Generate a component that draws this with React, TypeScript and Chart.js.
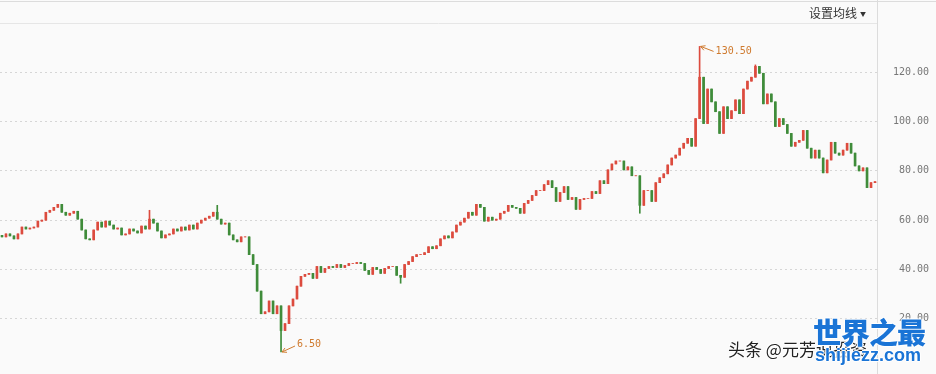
import React, { useEffect, useRef } from 'react';
import { Chart, registerables } from 'chart.js';

Chart.register(...registerables);

// Closing prices, one per candle (left to right)
const closes: number[] = [
  53.2, 54.4, 53.6, 52.4, 54.4, 57.2, 56.4, 56.8, 57.2, 59.6,
  60.0, 63.2, 64.0, 65.2, 66.4, 63.2, 62.0, 62.8, 63.6, 60.4,
  56.0, 52.4, 52.0, 56.0, 59.2, 57.2, 59.6, 58.0, 56.4, 56.8,
  54.0, 54.4, 56.4, 55.6, 54.8, 57.6, 56.4, 60.4, 58.8, 55.6,
  52.8, 54.0, 54.4, 56.4, 55.6, 57.2, 56.0, 58.0, 56.4, 58.8,
  60.0, 60.8, 61.6, 63.2, 60.4, 58.4, 58.8, 54.0, 52.0, 51.2,
  53.2, 53.2, 46.0, 42.0, 31.2, 22.0, 22.8, 27.2, 22.0, 25.2,
  15.2, 18.0, 25.2, 28.0, 33.2, 37.2, 38.0, 38.4, 36.4, 41.2,
  38.8, 40.4, 41.2, 40.8, 42.0, 40.8, 41.6, 42.4, 42.4, 42.8,
  42.4, 39.6, 38.0, 40.8, 40.0, 38.4, 40.4, 41.2, 41.2, 37.6,
  36.8, 42.0, 43.2, 45.2, 46.0, 46.0, 46.8, 49.2, 48.4, 49.6,
  52.4, 53.6, 52.8, 55.2, 58.0, 59.2, 60.8, 63.2, 62.0, 66.4,
  65.2, 59.6, 61.2, 60.0, 60.4, 62.8, 63.6, 66.0, 65.2, 64.8,
  62.8, 66.8, 68.0, 70.0, 72.0, 72.0, 74.4, 76.0, 73.2, 67.6,
  71.2, 73.6, 68.4, 69.2, 64.4, 68.4, 68.8, 68.8, 71.6, 70.8,
  76.0, 74.8, 80.4, 82.8, 84.0, 84.0, 80.4, 81.6, 78.0, 78.0,
  66.0, 72.0, 72.0, 67.6, 75.2, 77.2, 78.8, 82.4, 85.2, 86.4,
  89.2, 91.2, 93.2, 90.0, 101.2, 118.0, 99.2, 113.2, 108.0, 104.0,
  95.2, 106.0, 101.2, 104.4, 108.8, 103.2, 113.2, 116.4, 118.0, 122.4,
  119.6, 107.2, 111.2, 108.0, 98.0, 101.2, 98.8, 95.2, 90.0, 91.6,
  92.4, 96.4, 89.2, 85.2, 88.4, 85.2, 79.2, 84.4, 91.6, 87.2,
  86.4, 88.4, 91.2, 87.2, 82.0, 80.0, 81.2, 73.2, 75.2, 75.6,
];
const firstOpen = 53.8;

// Notable wick extremes (candle index -> price)
const wickHighs: Record<number, number> = { 37: 64.0, 54: 66.0, 175: 130.5, 189: 123.0 };
const wickLows: Record<number, number> = { 70: 6.5, 100: 34.4, 160: 62.8 };

const yTicks = [20, 40, 60, 80, 100, 120];
const yMin = 0;
const yMax = 140;
const maxLabel = '130.50';
const minLabel = '6.50';
const headerText = '设置均线';
const watermarkText = '头条 @元芳说投资';
const logoText = '世界之最';
const logoUrl = 'shijiezz.com';

const UP = '#dc4b3e';
const DOWN = '#3f8c3a';
const NOTE = '#cf7a2e';

export default function App() {
  const ref = useRef<HTMLCanvasElement | null>(null);

  useEffect(() => {
    if (!ref.current) return;
    const labels = closes.map((_, i) => String(i));
    const opens = closes.map((_, i) => (i === 0 ? firstOpen : closes[i - 1]));
    const bodies = closes.map((c, i) => [opens[i], c]);
    const wicks = closes.map((c, i) => {
      const lo = wickLows[i] !== undefined ? wickLows[i] : Math.min(opens[i], c);
      const hi = wickHighs[i] !== undefined ? wickHighs[i] : Math.max(opens[i], c);
      return [lo, hi];
    });
    const colors = closes.map((c, i) => (c >= opens[i] ? UP : DOWN));
    const hiIdx = 175;
    const loIdx = 70;

    const frame = {
      id: 'frame',
      afterDraw(chart: any) {
        const ctx = chart.ctx;
        const a = chart.chartArea;
        ctx.save();
        ctx.strokeStyle = '#dcdcdc';
        ctx.lineWidth = 1;
        ctx.beginPath();
        ctx.moveTo(Math.round(a.right) + 0.5, 0);
        ctx.lineTo(Math.round(a.right) + 0.5, chart.height);
        ctx.moveTo(0, 1.5);
        ctx.lineTo(chart.width, 1.5);
        ctx.stroke();
        ctx.strokeStyle = '#e6e6e6';
        ctx.beginPath();
        ctx.moveTo(0, 23.5);
        ctx.lineTo(Math.round(a.right), 23.5);
        ctx.stroke();
        ctx.restore();
      },
    };

    const notes = {
      id: 'notes',
      afterDatasetsDraw(chart: any) {
        const ctx = chart.ctx;
        const xs = chart.scales.x;
        const ys = chart.scales.y;
        ctx.save();
        ctx.strokeStyle = NOTE;
        ctx.fillStyle = NOTE;
        ctx.lineWidth = 1;
        ctx.font = '10px "DejaVu Sans Mono"';
        ctx.textBaseline = 'middle';
        ctx.textAlign = 'left';
        const drawArrow = (px: number, py: number, tx: number, ty: number) => {
          ctx.beginPath();
          ctx.moveTo(tx, ty);
          ctx.lineTo(px, py);
          ctx.stroke();
          const ang = Math.atan2(py - ty, px - tx);
          ctx.beginPath();
          ctx.moveTo(px, py);
          ctx.lineTo(px - 5 * Math.cos(ang - 0.5), py - 5 * Math.sin(ang - 0.5));
          ctx.moveTo(px, py);
          ctx.lineTo(px - 5 * Math.cos(ang + 0.5), py - 5 * Math.sin(ang + 0.5));
          ctx.stroke();
        };
        const hx = xs.getPixelForValue(hiIdx) + 1;
        const hy = ys.getPixelForValue(wickHighs[hiIdx]);
        drawArrow(hx, hy, hx + 13, hy + 5);
        ctx.fillText(maxLabel, hx + 15, hy + 5);
        const lx = xs.getPixelForValue(loIdx) + 1;
        const ly = ys.getPixelForValue(wickLows[loIdx]);
        drawArrow(lx, ly, lx + 13, ly - 6);
        ctx.fillText(minLabel, lx + 15, ly - 8);
        ctx.restore();
      },
    };

    const chart = new Chart(ref.current, {
      type: 'bar',
      data: {
        labels,
        datasets: [
          {
            data: wicks as any,
            backgroundColor: colors,
            barThickness: 1,
            grouped: false,
            order: 2,
          } as any,
          {
            data: bodies as any,
            backgroundColor: colors,
            barThickness: 2,
            grouped: false,
            order: 1,
          } as any,
        ],
      },
      options: {
        animation: false,
        responsive: false,
        devicePixelRatio: 1,
        layout: { padding: { top: 23, right: 7, bottom: 1, left: 0 } },
        plugins: { legend: { display: false }, tooltip: { enabled: false } },
        scales: {
          x: { display: false, offset: true, grid: { display: false } },
          y: {
            position: 'right',
            min: yMin,
            max: yMax,
            afterFit: (s: any) => {
              s.width = 52;
            },
            afterBuildTicks: (s: any) => {
              s.ticks = yTicks.map((v) => ({ value: v }));
            },
            ticks: {
              crossAlign: 'far',
              padding: 0,
              color: '#777',
              font: { family: '"DejaVu Sans Mono"', size: 10 },
              callback: (v: any) => Number(v).toFixed(2),
            },
            grid: { color: '#d6d6d6', drawTicks: false, lineWidth: 1 },
            border: { display: false, dash: [2, 3] },
          } as any,
        },
      },
      plugins: [frame, notes],
    });
    return () => chart.destroy();
  }, []);

  return (
    <div
      style={{
        position: 'fixed',
        left: 0,
        top: 0,
        width: 936,
        height: 374,
        overflow: 'hidden',
        background: '#fafafa',
      }}
    >
      <canvas ref={ref} width={936} height={374} style={{ display: 'block', width: 936, height: 374 }} />
      <div
        style={{
          position: 'absolute',
          left: 809,
          top: 5,
          fontFamily: '"Noto Sans CJK SC"',
          fontSize: 12,
          color: '#333',
          whiteSpace: 'nowrap',
          lineHeight: '16px',
        }}
      >
        {headerText}
        <span style={{ fontSize: 6, marginLeft: 3, verticalAlign: 2 }}>▼</span>
      </div>
      <div
        style={{
          position: 'absolute',
          left: 728,
          top: 338,
          fontFamily: '"Noto Sans CJK SC"',
          fontSize: 17,
          color: '#222',
          whiteSpace: 'nowrap',
          lineHeight: '22px',
          textShadow: '1px 1px 0 #fff, -1px -1px 0 #fff',
        }}
      >
        {watermarkText}
      </div>
      <div
        style={{
          position: 'absolute',
          left: 813,
          top: 312,
          fontFamily: '"Noto Sans CJK SC"',
          fontWeight: 900,
          fontSize: 29,
          color: '#1a74d6',
          whiteSpace: 'nowrap',
          lineHeight: '38px',
          letterSpacing: -1,
          textShadow: '1px 0 0 #fff, -1px 0 0 #fff, 0 1px 0 #fff, 0 -1px 0 #fff',
        }}
      >
        {logoText}
      </div>
      <div
        style={{
          position: 'absolute',
          left: 815,
          top: 344,
          fontFamily: '"Liberation Sans"',
          fontWeight: 700,
          fontSize: 18,
          color: '#1a74d6',
          whiteSpace: 'nowrap',
          lineHeight: '22px',
          textShadow: '1px 0 0 #fff, -1px 0 0 #fff, 0 1px 0 #fff, 0 -1px 0 #fff',
        }}
      >
        {logoUrl}
      </div>
    </div>
  );
}
